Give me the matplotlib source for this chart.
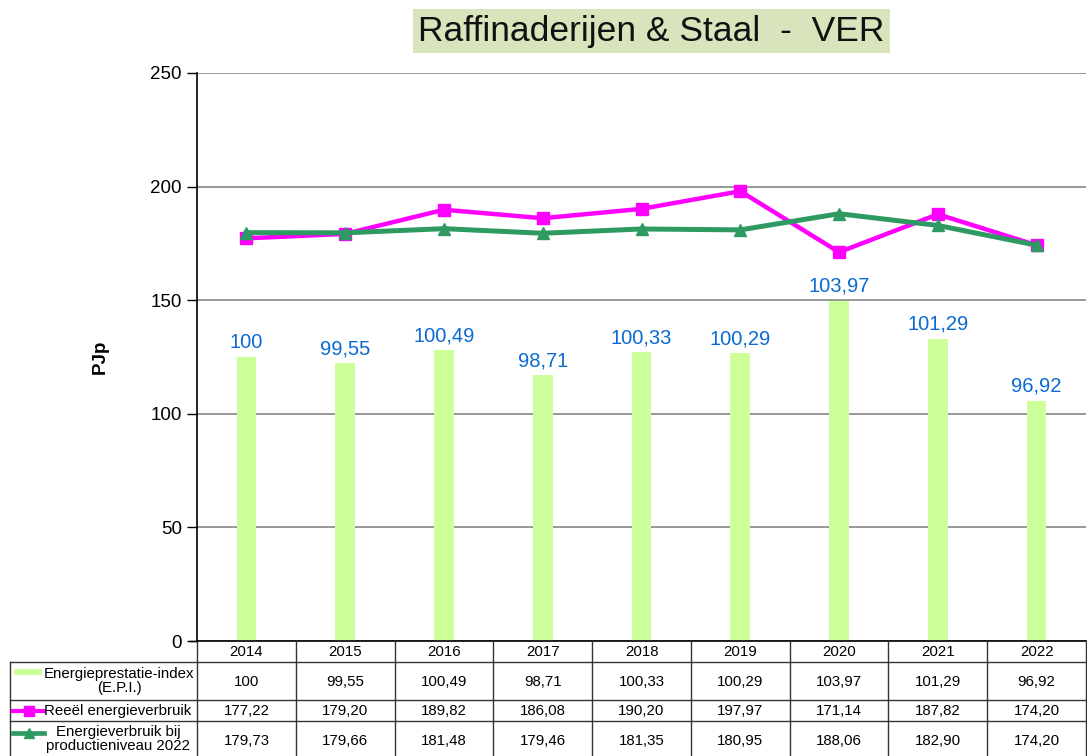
import matplotlib
matplotlib.use("Agg")
import matplotlib.pyplot as plt
import numpy as np
from matplotlib.lines import Line2D
from matplotlib.patches import Rectangle

plt.rcParams['font.family'] = ['Liberation Sans', 'DejaVu Sans']

years = ['2014', '2015', '2016', '2017', '2018', '2019', '2020', '2021', '2022']
epi = [100, 99.55, 100.49, 98.71, 100.33, 100.29, 103.97, 101.29, 96.92]
reeel = [177.22, 179.20, 189.82, 186.08, 190.20, 197.97, 171.14, 187.82, 174.20]
prod2022 = [179.73, 179.66, 181.48, 179.46, 181.35, 180.95, 188.06, 182.90, 174.20]
epi_labels = ['100', '99,55', '100,49', '98,71', '100,33', '100,29', '103,97', '101,29', '96,92']

def fmt(v):
    return f"{v:.2f}".replace('.', ',')

W, H = 1087, 756
fig = plt.figure(figsize=(W / 100, H / 100), dpi=100)

L, R, T, B = 197, 1086, 73, 641
ax = fig.add_axes([L / W, 1 - B / H, (R - L) / W, (B - T) / H])
x = np.arange(len(years))
ax.set_xlim(-0.5, len(years) - 0.5)
ax.set_ylim(0, 250)
ax.set_yticks([0, 50, 100, 150, 200, 250])
ax.tick_params(axis='y', labelsize=13.5, direction='out', length=7, width=1, pad=4)
ax.set_xticks([])
ax.yaxis.grid(True, color='#868686', linewidth=1.2)
for s in ['top', 'right', 'bottom']:
    ax.spines[s].set_visible(False)
ax.spines['left'].set_linewidth(1.2)
ax.set_ylabel('PJp', fontsize=13.5, fontweight='bold', labelpad=30)

# secondary axis for bars
ax2 = ax.twinx()
ax2.set_ylim(80, 120)
ax2.axis('off')
ax2.bar(x, epi, width=0.2, color='#ccff99', zorder=2)
for xi, v, lab in zip(x, epi, epi_labels):
    ax2.annotate(lab, (xi, v), xytext=(0, 3.5), textcoords='offset points',
                 ha='center', va='bottom', color='#0a6ad2', fontsize=14.5)

# line axis on top, same scale as primary
ax3 = ax.twinx()
ax3.set_ylim(0, 250)
ax3.set_xlim(-0.5, len(years) - 0.5)
ax3.axis('off')
ax3.plot(x, reeel, color='#ff00ff', lw=3.2, marker='s', ms=8, zorder=3)
ax3.plot(x, prod2022, color='#2e9a62', lw=3.6, marker='^', ms=8, zorder=4)

# Title box
fig.text(651 / W, 1 - 31 / H, 'Raffinaderijen & Staal  -  VER', ha='center', va='center',
         fontsize=25.5, color='#111111',
         bbox=dict(boxstyle='square,pad=0.15', facecolor='#d8e4bc', edgecolor='none'))

# Table
def fx(px):
    return px / W

def fy(py):
    return 1 - py / H

lc = '#333333'
lw = 1.0
col_edges = [L + (R - L) * i / len(years) for i in range(len(years) + 1)]
rows_y = [662, 700, 721]
fig.add_artist(Line2D([fx(L), fx(R)], [fy(B), fy(B)], color='black', lw=1.2))
for ry in rows_y:
    fig.add_artist(Line2D([fx(10), fx(R)], [fy(ry), fy(ry)], color=lc, lw=lw))
for ce in col_edges:
    fig.add_artist(Line2D([fx(ce), fx(ce)], [fy(B), fy(H)], color=lc, lw=lw))
fig.add_artist(Line2D([fx(10), fx(10)], [fy(662), fy(H)], color=lc, lw=lw))
fig.add_artist(Line2D([fx(190), fx(197)], [fy(B), fy(B)], color='black', lw=1))

fs = 10.8
for i, yr in enumerate(years):
    cx = fx((col_edges[i] + col_edges[i + 1]) / 2)
    fig.text(cx, fy(652), yr, ha='center', va='center', fontsize=fs)
    fig.text(cx, fy(682), epi_labels[i], ha='center', va='center', fontsize=fs)
    fig.text(cx, fy(711), fmt(reeel[i]), ha='center', va='center', fontsize=fs)
    fig.text(cx, fy(741), fmt(prod2022[i]), ha='center', va='center', fontsize=fs)

# legend keys in table
fig.add_artist(Rectangle((fx(14), fy(675)), fx(42) - fx(14), fy(669) - fy(675),
                         facecolor='#ccff99', edgecolor='none'))
fig.add_artist(Line2D([fx(13), fx(28.5), fx(44)], [fy(711)] * 3, color='#ff00ff', lw=3,
                      marker='s', ms=7, markevery=[1]))
fig.add_artist(Line2D([fx(13), fx(28.5), fx(44)], [fy(733)] * 3, color='#2e9a62', lw=3.4,
                      marker='^', ms=7, markevery=[1]))
fig.text(fx(119), fy(681), 'Energieprestatie-index\n(E.P.I.)', ha='center', va='center',
         fontsize=fs, linespacing=1.0)
fig.text(fx(118), fy(711), 'Reeël energieverbruik', ha='center', va='center', fontsize=fs)
fig.text(fx(118), fy(739), 'Energieverbruik bij\nproductieniveau 2022', ha='center',
         va='center', fontsize=fs, linespacing=1.0)

fig.savefig('out.png', dpi=100)
